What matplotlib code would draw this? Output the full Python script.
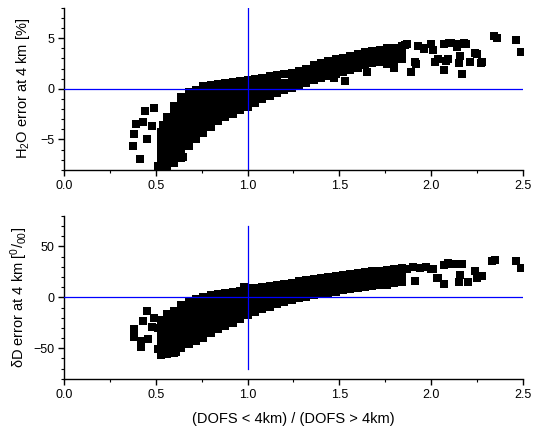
import matplotlib
matplotlib.use("Agg")
import matplotlib.pyplot as plt
from matplotlib.ticker import MultipleLocator

plt.rcParams['font.family'] = ['Liberation Sans', 'DejaVu Sans']
plt.rcParams['mathtext.fontset'] = 'custom'
plt.rcParams['mathtext.rm'] = 'Liberation Sans'
plt.rcParams['mathtext.default'] = 'regular'

# DOFS ratio (x) and H2O error at 4 km [%] (top panel)
h2o_x = ([0.53] * 6 + [0.56] * 8 + [0.60] * 9 + [0.64] * 10 + [0.68] * 9 + [0.72] * 8
         + [0.76] * 8 + [0.80] * 7 + [0.84] * 7 + [0.88] * 6 + [0.92] * 6 + [0.96] * 5
         + [1.00] * 5 + [1.04] * 5 + [1.08] * 4 + [1.12] * 4 + [1.16] * 4 + [1.20] * 3
         + [1.24] * 3 + [1.28] * 3 + [1.32] * 3 + [1.36] * 3 + [1.40] * 3 + [1.44] * 3
         + [1.48] * 3 + [1.52] * 3 + [1.56] * 3 + [1.60] * 3 + [1.64] * 3 + [1.68] * 3
         + [1.72] * 3 + [1.76] * 4 + [1.80] * 3 + [1.84] * 3
         + [0.44, 0.49, 0.39, 0.43, 0.48, 0.38, 0.377, 0.415, 0.51, 0.54, 0.45, 0.54,
            0.60, 0.65, 0.77, 1.53, 1.47, 1.65, 1.80,
            2.34, 2.36, 2.46, 2.49, 2.07, 2.10, 2.14, 2.16, 2.19, 2.00, 2.01, 2.04,
            2.07, 2.09, 2.15, 2.17, 2.21, 2.24, 2.28, 2.14, 1.89, 1.91, 1.86, 1.93,
            1.96, 2.25, 2.16, 2.08, 2.02, 2.27, 2.11, 1.87, 1.92, 1.96, 2.18])
h2o_y = ([-7.8, -7.1, -6.4, -5.7, -5.0, -4.3]
         + [-7.6, -6.9, -6.2, -5.5, -4.8, -4.1, -3.4, -2.8]
         + [-7.3, -6.6, -5.9, -5.2, -4.5, -3.8, -3.1, -2.4, -1.7]
         + [-6.8, -6.1, -5.4, -4.7, -4.0, -3.3, -2.6, -1.9, -1.2, -0.8]
         + [-5.6, -4.9, -4.2, -3.5, -2.8, -2.1, -1.4, -0.7, -0.3]
         + [-5.0, -4.3, -3.6, -2.9, -2.2, -1.5, -0.8, -0.1]
         + [-4.4, -3.7, -3.0, -2.3, -1.6, -0.9, -0.2, 0.3]
         + [-3.8, -3.1, -2.4, -1.7, -1.0, -0.3, 0.4]
         + [-3.2, -2.5, -1.8, -1.1, -0.4, 0.3, 0.5]
         + [-2.8, -2.1, -1.4, -0.7, 0.0, 0.6]
         + [-2.5, -1.8, -1.1, -0.4, 0.3, 0.7]
         + [-2.1, -1.4, -0.7, 0.0, 0.8]
         + [-1.8, -1.1, -0.4, 0.3, 0.9]
         + [-1.4, -0.7, 0.0, 0.6, 1.0]
         + [-1.0, -0.3, 0.4, 1.1]
         + [-0.7, 0.0, 0.7, 1.3]
         + [-0.4, 0.3, 1.0, 1.4]
         + [-0.1, 0.6, 1.5]
         + [0.1, 0.8, 1.6]
         + [0.4, 1.1, 1.8]
         + [0.6, 1.3, 2.0]
         + [0.9, 1.6, 2.3]
         + [1.1, 1.8, 2.5]
         + [1.3, 2.0, 2.7]
         + [1.5, 2.2, 2.9]
         + [1.7, 2.4, 3.0]
         + [1.9, 2.6, 3.2]
         + [2.1, 2.8, 3.4]
         + [2.3, 3.0, 3.6]
         + [2.5, 3.1, 3.7]
         + [2.6, 3.3, 3.8]
         + [2.4, 3.1, 3.8, 4.0]
         + [2.7, 3.4, 4.0]
         + [2.9, 3.6, 4.2]
         + [-2.2, -1.9, -3.5, -3.3, -3.7, -4.5, -5.6, -6.9, -7.6, -7.8, -5.0, -3.6,
            -7.0, -6.7, 0.3, 0.8, 1.1, 1.7, 2.1,
            5.2, 5.0, 4.8, 3.6, 4.4, 4.5, 4.4, 4.4, 4.4, 4.4, 3.8, 2.9,
            1.9, 2.9, 2.5, 1.5, 2.6, 3.5, 2.6, 4.1, 1.7, 2.6, 4.3, 4.2,
            4.0, 3.4, 3.2, 2.7, 2.6, 2.5, 4.5, 4.4, 2.4, 3.9, 4.5])

# DOFS ratio (x) and deltaD error at 4 km [permil] (bottom panel)
dd_x = ([0.53] * 6 + [0.56] * 7 + [0.60] * 7 + [0.64] * 7 + [0.68] * 7 + [0.72] * 7
        + [0.76] * 7 + [0.80] * 7 + [0.84] * 6 + [0.88] * 6 + [0.92] * 6 + [0.96] * 5
        + [1.00] * 5 + [1.04] * 5 + [1.08] * 4 + [1.12] * 4 + [1.16] * 4 + [1.20] * 4
        + [1.24] * 4 + [1.28] * 4 + [1.32] * 4 + [1.36] * 4 + [1.40] * 4 + [1.44] * 4
        + [1.48] * 4 + [1.52] * 4 + [1.56] * 4 + [1.60] * 4 + [1.64] * 4 + [1.68] * 4
        + [1.72] * 3 + [1.76] * 3 + [1.80] * 3 + [1.84] * 3
        + [0.45, 0.49, 0.43, 0.38, 0.38, 0.42, 0.42, 0.48, 0.55, 0.61, 0.51, 0.46,
           0.51, 0.98,
           2.35, 2.33, 2.46, 2.49, 2.07, 2.11, 2.15, 2.17, 2.00, 2.04, 2.07, 2.15,
           2.16, 2.20, 2.24, 2.25, 2.28, 1.91, 1.94, 1.87, 2.09, 2.03, 1.66, 1.76,
           1.51, 2.01, 1.90, 1.97])
dd_y = ([-57, -50, -43, -36, -29, -22]
        + [-56, -49, -42, -35, -28, -21, -16]
        + [-55, -48, -41, -34, -27, -20, -13]
        + [-50, -43, -36, -29, -22, -15, -8]
        + [-46, -39, -32, -25, -18, -11, -4]
        + [-43, -36, -29, -22, -15, -8, -2]
        + [-40, -33, -26, -19, -12, -5, 0]
        + [-35, -28, -21, -14, -7, 0, 2]
        + [-31, -24, -17, -10, -3, 3]
        + [-28, -21, -14, -7, 0, 4]
        + [-25, -18, -11, -4, 3, 5]
        + [-21, -14, -7, 0, 6]
        + [-17, -10, -3, 4, 9]
        + [-14, -7, 0, 7, 9]
        + [-11, -4, 3, 10]
        + [-9, -2, 5, 11]
        + [-7, 0, 7, 12]
        + [-5, 2, 9, 13]
        + [-3, 4, 11, 14]
        + [-1, 6, 13, 16]
        + [0, 7, 14, 17]
        + [2, 9, 16, 18]
        + [3, 10, 17, 19]
        + [4, 11, 18, 20]
        + [5, 12, 19, 21]
        + [7, 14, 21, 22]
        + [8, 15, 22, 23]
        + [9, 16, 23, 24]
        + [10, 17, 24, 25]
        + [11, 18, 25, 26]
        + [12, 19, 26]
        + [13, 20, 27]
        + [14, 21, 28]
        + [15, 22, 29]
        + [-13, -20, -23, -31, -39, -43, -49, -29, -56, -54, -51, -41,
           -30, 10,
           37, 36, 36, 29, 32, 33, 33, 33, 28, 19, 13, 15,
           22, 15, 26, 19, 21, 16, 29, 28, 34, 19, 11, 12,
           8, 28, 30, 30])

xticks = [0.0, 0.5, 1.0, 1.5, 2.0, 2.5]
ref_x = 1.0
dd_vline = (-70, 70)

fig = plt.figure(figsize=(5.33, 4.30), dpi=100)
ax1 = fig.add_axes([0.120, 0.605, 0.861, 0.377])
ax2 = fig.add_axes([0.120, 0.119, 0.861, 0.379])

for ax in (ax1, ax2):
    ax.spines['top'].set_visible(False)
    ax.spines['right'].set_visible(False)
    ax.spines['left'].set_linewidth(1.0)
    ax.spines['bottom'].set_linewidth(1.0)
    ax.set_xlim(0, 2.5)
    ax.set_xticks(xticks)
    ax.set_xticklabels(["{:.1f}".format(t) for t in xticks])
    ax.xaxis.set_minor_locator(MultipleLocator(0.25))
    ax.tick_params(which='major', direction='out', length=4, width=1.0, labelsize=9, pad=3)
    ax.tick_params(which='minor', direction='out', length=2.5, width=0.8)

ax1.plot(h2o_x, h2o_y, 's', color='black', markersize=5.8, markeredgewidth=0, zorder=2)
ax1.axhline(0, color='#0000ff', lw=0.9, zorder=3)
ax1.axvline(ref_x, color='#0000ff', lw=0.9, zorder=3)
ax1.set_ylim(-8, 8)
ax1.set_yticks([-5, 0, 5])
ax1.yaxis.set_minor_locator(MultipleLocator(1))
ax1.set_ylabel("H$_2$O error at 4 km [%]", fontsize=10.5, labelpad=6)

ax2.plot(dd_x, dd_y, 's', color='black', markersize=5.8, markeredgewidth=0, zorder=2)
ax2.axhline(0, color='#0000ff', lw=0.9, zorder=3)
ax2.plot([ref_x, ref_x], dd_vline, color='#0000ff', lw=0.9, zorder=3)
ax2.set_ylim(-80, 80)
ax2.set_yticks([-50, 0, 50])
ax2.yaxis.set_minor_locator(MultipleLocator(10))
ax2.set_ylabel("\u03b4D error at 4 km [$^{0}/_{00}$]", fontsize=10.5, labelpad=2)
ax2.set_xlabel("(DOFS < 4km) / (DOFS > 4km)", fontsize=10.5, labelpad=8)

plt.savefig("out.png", dpi=100)
